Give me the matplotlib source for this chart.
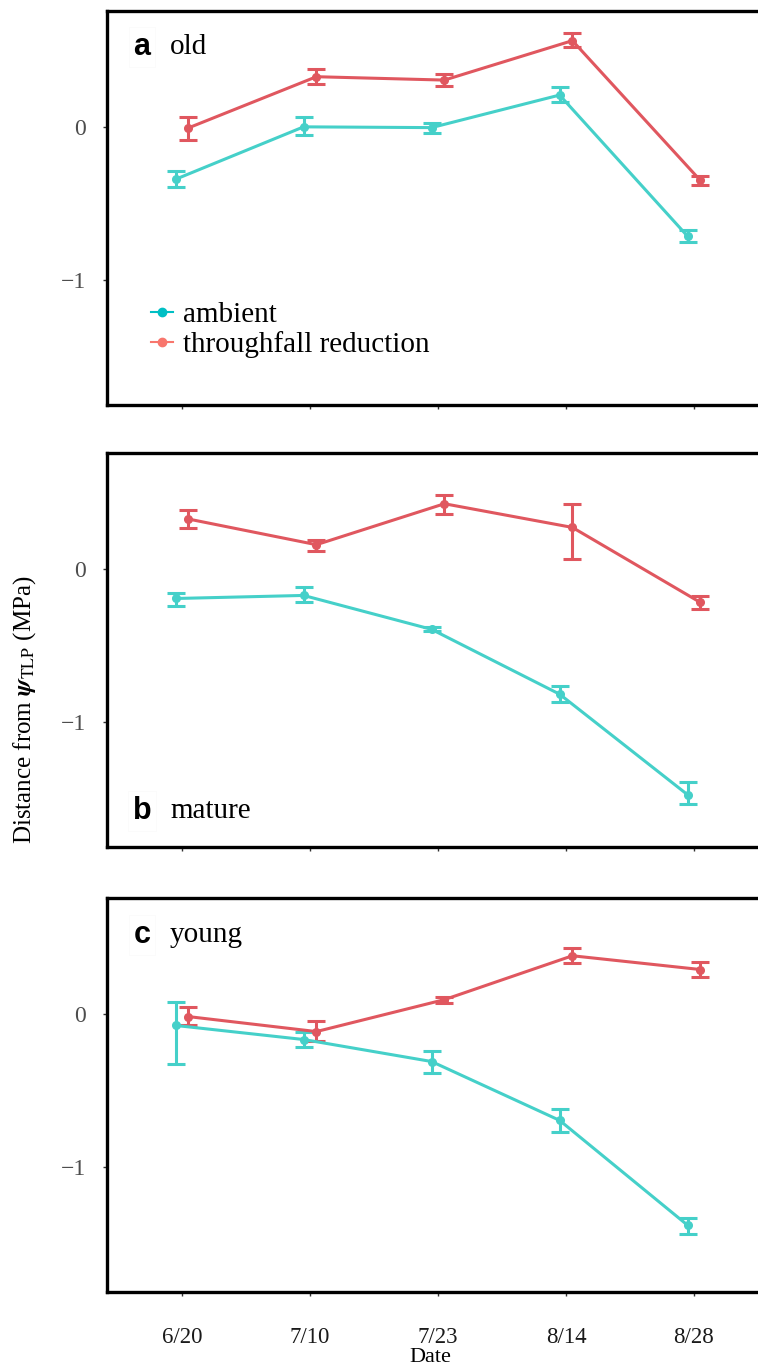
import matplotlib
matplotlib.use("Agg")
import matplotlib.pyplot as plt
import numpy as np

dates = ["6/20", "7/10", "7/23", "8/14", "8/28"]
panels = ["old", "mature", "young"]
letters = ["a", "b", "c"]

# ambient: mean, lower bound, upper bound
amb_mean = {
    "old":    [-0.343, 0.000, -0.005, 0.208, -0.716],
    "mature": [-0.194, -0.174, -0.396, -0.820, -1.478],
    "young":  [-0.076, -0.168, -0.312, -0.697, -1.383],
}
amb_lo = {
    "old":    [-0.395, -0.056, -0.038, 0.164, -0.754],
    "mature": [-0.240, -0.220, -0.409, -0.870, -1.537],
    "young":  [-0.331, -0.214, -0.390, -0.770, -1.443],
}
amb_hi = {
    "old":    [-0.290, 0.065, 0.028, 0.258, -0.672],
    "mature": [-0.155, -0.120, -0.383, -0.766, -1.395],
    "young":  [0.076, -0.120, -0.240, -0.625, -1.338],
}
thr_mean = {
    "old":    [-0.007, 0.328, 0.306, 0.564, -0.351],
    "mature": [0.326, 0.158, 0.426, 0.271, -0.220],
    "young":  [-0.018, -0.116, 0.093, 0.380, 0.290],
}
thr_lo = {
    "old":    [-0.087, 0.280, 0.267, 0.520, -0.380],
    "mature": [0.267, 0.120, 0.360, 0.065, -0.260],
    "young":  [-0.070, -0.180, 0.074, 0.330, 0.244],
}
thr_hi = {
    "old":    [0.066, 0.376, 0.345, 0.612, -0.323],
    "mature": [0.387, 0.190, 0.485, 0.424, -0.180],
    "young":  [0.048, -0.050, 0.113, 0.430, 0.336],
}
yticks = [0, -1]
yticklabels = ["0", "\u22121"]

W, H = 758, 1369
fig = plt.figure(figsize=(W / 100, H / 100), dpi=100)
fig.patch.set_facecolor("white")

serif = ["Liberation Serif", "DejaVu Serif"]
sans = ["Liberation Sans", "DejaVu Sans"]
plt.rcParams["mathtext.fontset"] = "stix"

amb_col = "#45D0C9"
thr_col = "#E0575F"

tops = [11, 453, 898]
ph = 394
left_px, right_px = 107, 769

x = np.arange(len(dates))
dodge = 0.05

for i, p in enumerate(panels):
    top = tops[i]
    ax = fig.add_axes([left_px / W, 1 - (top + ph) / H, (right_px - left_px) / W, ph / H])
    am = np.array(amb_mean[p]); alo = np.array(amb_lo[p]); ahi = np.array(amb_hi[p])
    tm = np.array(thr_mean[p]); tlo = np.array(thr_lo[p]); thi = np.array(thr_hi[p])
    ax.errorbar(x - dodge, am, yerr=[am - alo, ahi - am], color=amb_col, lw=2.2,
                marker="o", ms=5.5, capsize=6.5, capthick=2.2, elinewidth=2.2, zorder=3)
    ax.errorbar(x + dodge, tm, yerr=[tm - tlo, thi - tm], color=thr_col, lw=2.2,
                marker="o", ms=5.5, capsize=6.5, capthick=2.2, elinewidth=2.2, zorder=3)
    ax.set_xlim(-0.586, 4.586)
    ax.set_ylim(-1.82, 0.758)
    ax.set_yticks(yticks)
    ax.set_yticklabels(yticklabels, fontfamily=serif, fontsize=17, color="#4D4D4D")
    ax.set_xticks(x)
    if i == 2:
        ax.set_xticklabels(dates, fontfamily=serif, fontsize=16.5, color="#1a1a1a")
    else:
        ax.set_xticklabels([])
    ax.tick_params(axis="both", length=3, width=1, color="#333333", pad=12)
    ax.tick_params(axis="x", pad=22)
    for s in ax.spines.values():
        s.set_linewidth(2.4)
        s.set_color("black")
    if i == 1:
        ly = (811 - top) / ph
    elif i == 0:
        ly = (47 - top) / ph
    else:
        ly = (935 - top) / ph
    ax.text((142 - left_px) / (right_px - left_px), 1 - ly, letters[i], transform=ax.transAxes,
            fontfamily=sans, fontweight="bold", fontsize=22, ha="center", va="center",
            bbox=dict(boxstyle="square,pad=0.15", fc="white", ec="#fafafa", lw=0.5))
    ax.text((170 - left_px) / (right_px - left_px), 1 - ly, p, transform=ax.transAxes,
            fontfamily=serif, fontsize=21, ha="left", va="center", color="black")
    if i == 0:
        ax.plot([], [], color="#00BFC4", marker="o", lw=1.5, ms=6, label="ambient")
        ax.plot([], [], color="#F8766D", marker="o", lw=1.5, ms=6, label="throughfall reduction")
        leg = ax.legend(loc="upper left", bbox_to_anchor=((139 - left_px) / (right_px - left_px),
                        1 - (290 - top) / ph), frameon=False,
                        prop={"family": serif, "size": 21}, handlelength=0.75,
                        handletextpad=0.35, labelspacing=0.1, borderaxespad=0)

fig.text(25 / W, 1 - 710 / H, r"Distance from $\boldsymbol{\psi}_{\mathrm{TLP}}$ (MPa)",
         rotation=90, ha="center", va="center", fontfamily=serif, fontsize=18)
fig.text(430 / W, 1 - 1358 / H, "Date", ha="center", va="center", fontfamily=serif, fontsize=16)

fig.savefig("out.png", dpi=100, facecolor="white")
